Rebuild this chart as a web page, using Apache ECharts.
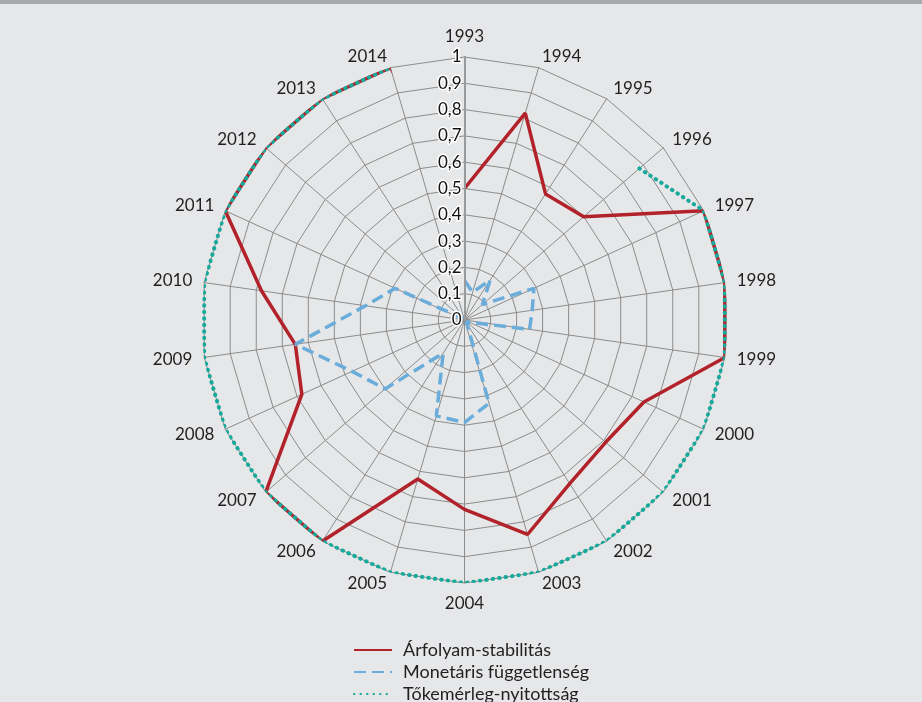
<!DOCTYPE html>
<html>
<head>
<meta charset="utf-8">
<script src="https://cdn.jsdelivr.net/npm/echarts@6/dist/echarts.min.js"></script>
<style>
  html, body { margin: 0; padding: 0; background: #e6e7e8; }
  #chart { width: 922px; height: 702px; }
</style>
</head>
<body>
<div id="chart"></div>
<script>
var years = ['1993', '1994', '1995', '1996', '1997', '1998', '1999', '2000', '2001', '2002', '2003',
  '2004', '2005', '2006', '2007', '2008', '2009', '2010', '2011', '2012', '2013', '2014'];
var seriesNames = ['Árfolyam-stabilitás', 'Monetáris függetlenség', 'Tőkemérleg-nyitottság'];
var stability = [0.5, 0.82, 0.57, 0.6, 1, 1, 1, 0.75, 0.71, 0.74, 0.85,
  0.72, 0.63, 1, 1, 0.68, 0.65, 0.78, 1, 1, 1, 1];
var independence = [0.15, 0.11, 0.18, 0.09, 0.29, 0.26, 0.25, 0.02, 0.01, 0.01, 0.33,
  0.39, 0.38, 0.15, 0.4, 0.47, 0.65, 0.38, 0.29, 0.01, 0, 0];
var openness = [null, null, null, 0.88, 1, 1, 1, 1, 1, 1, 1,
  1, 1, 1, 1, 1, 1, 1, 1, 1, 1, 1];

var gridColor = '#8c8c8c';
var textColor = '#231f20';
var font = 'Lato';

// radar runs counter-clockwise, so feed it the years reversed (1993 stays on top)
var radarNames = [years[0]].concat(years.slice(1).reverse());

// closed ring for polar line: [radius, angleIndex]
function ring(values) {
  var pts = values.map(function (v, i) { return [v, i]; });
  pts.push([values[0], 0]);
  return pts;
}
function openLine(values) {
  var pts = [];
  values.forEach(function (v, i) { if (v != null) pts.push([v, i]); });
  return pts;
}

var chart = echarts.init(document.getElementById('chart'));
var option = {
  animation: false,
  backgroundColor: '#e6e7e8',
  graphic: [{
    type: 'rect', left: 0, top: 0, z: 100,
    shape: { width: 922, height: 4 },
    style: { fill: '#a7a9ac' }
  }],
  radar: {
    center: [464.5, 320],
    radius: 263,
    startAngle: 90,
    splitNumber: 10,
    shape: 'polygon',
    nameGap: 12,
    indicator: radarNames.map(function (y) { return { name: y, min: 0, max: 1 }; }),
    axisName: { color: textColor, fontSize: 17, fontFamily: font },
    axisLine: { lineStyle: { color: gridColor, width: 1 } },
    splitLine: { lineStyle: { color: gridColor, width: 1 } },
    splitArea: { show: false }
  },
  polar: { center: [464.5, 320], radius: 263 },
  angleAxis: {
    type: 'category', data: years, boundaryGap: false,
    startAngle: 90, clockwise: true, show: false
  },
  radiusAxis: {
    min: 0, max: 1, interval: 0.1, z: 10,
    axisLine: { show: true, lineStyle: { color: '#999a9c', width: 2 } },
    axisTick: { show: false },
    splitLine: { show: false },
    axisLabel: {
      margin: 3, fontSize: 17, fontFamily: font, color: '#111',
      textBorderColor: '#fff', textBorderWidth: 3,
      formatter: function (v) { return String(+v.toFixed(1)).replace('.', ','); }
    }
  },
  legend: {
    orient: 'vertical', left: 353, top: 641, height: 120, padding: 0,
    itemWidth: 38, itemHeight: 14, itemGap: 4,
    itemStyle: { opacity: 0 },
    textStyle: { fontSize: 18, fontFamily: font, color: textColor, padding: [0, 0, 0, 6] },
    data: seriesNames
  },
  series: [
    {
      name: seriesNames[0], type: 'line', coordinateSystem: 'polar', symbol: 'none',
      lineStyle: { color: '#b2222a', width: 3.5 }, itemStyle: { color: '#b2222a' },
      data: ring(stability)
    },
    {
      name: seriesNames[1], type: 'line', coordinateSystem: 'polar', symbol: 'none',
      lineStyle: { color: '#6aaddb', width: 3.5, type: [12, 6] }, itemStyle: { color: '#6aaddb' },
      data: ring(independence)
    },
    {
      name: seriesNames[2], type: 'line', coordinateSystem: 'polar', symbol: 'none',
      lineStyle: { color: '#17a99b', width: 4, type: [0.5, 6], cap: 'round' },
      itemStyle: { color: '#17a99b' },
      data: openLine(openness)
    }
  ]
};
option && chart.setOption(option);
</script>
</body>
</html>
